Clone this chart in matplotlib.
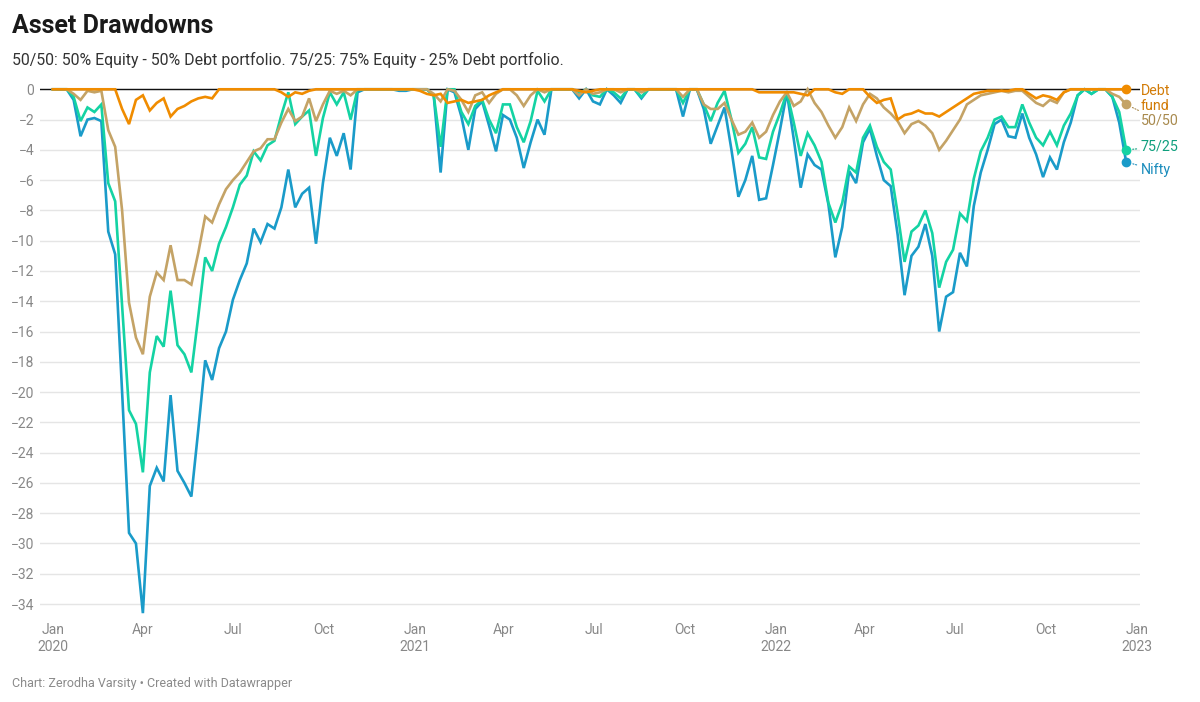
import matplotlib
matplotlib.use('Agg')
import matplotlib.pyplot as plt
import pandas as pd

plt.rcParams['font.family'] = ['Roboto', 'DejaVu Sans']

# weekly drawdown readings (%), Jan 2020 - Dec 2022
dates = pd.date_range('2020-01-01', periods=156, freq='7D')

nifty = [
    0, 0, 0, -0.7, -3.1, -2.0, -1.9, -2.1, -9.4, -10.9, -20.0, -29.3, -30.0,
    -34.6, -26.2, -25.0, -25.9, -20.2, -25.2, -26.0, -26.9, -22.5, -17.9, -19.2, -17.1, -16.0,
    -13.9, -12.6, -11.5, -9.2, -10.1, -8.9, -9.2, -7.8, -5.3, -7.8, -6.9, -6.5, -10.2,
    -6.2, -3.2, -4.4, -2.9, -5.3, -0.2, 0, 0, 0, 0, 0, -0.1, -0.1,
    0, 0, 0, -0.4, -5.5, 0, -0.2, -1.8, -4.0, -1.3, -0.8, -2.4, -4.1,
    -1.7, -2.0, -3.2, -5.2, -3.5, -2.0, -3.0, 0, 0, 0, 0, -0.6, 0,
    -0.8, -1.0, 0, -0.4, -0.9, 0, 0, -0.6, 0, 0, 0, 0, 0,
    -1.8, 0, 0, -1.3, -3.6, -2.4, -1.2, -4.0, -7.1, -6.0, -4.4, -7.3, -7.2,
    -5.0, -2.7, -0.2, -3.3, -6.5, -4.3, -5.0, -5.3, -7.6, -11.1, -9.1, -5.4, -6.2,
    -3.5, -2.6, -4.4, -6.0, -6.4, -9.6, -13.6, -11.0, -10.4, -8.9, -11.0, -16.0, -13.7,
    -13.4, -10.8, -11.7, -7.7, -5.5, -4.0, -2.3, -2.0, -3.1, -3.2, -1.6, -3.2, -4.3,
    -5.8, -4.5, -5.3, -3.5, -2.2, -0.4, 0, -0.3, 0, 0, -0.5, -2.2, -4.8,
]

mix_75_25 = [
    0, 0, 0, -0.5, -2.1, -1.2, -1.5, -1.0, -6.2, -7.4, -14.3, -21.2, -22.1,
    -25.3, -18.7, -16.3, -17.0, -13.3, -16.9, -17.5, -18.7, -15.0, -11.1, -12.0, -10.2, -9.1,
    -7.8, -6.3, -5.7, -4.1, -4.7, -3.7, -3.4, -1.7, -0.2, -2.3, -1.8, -1.4, -4.4,
    -1.9, -0.2, -1.0, -0.2, -2.0, 0, 0, 0, 0, 0, 0, 0, 0,
    0, 0, 0, -0.4, -3.8, 0, 0, -1.5, -2.3, -1.1, -0.7, -2.0, -2.9,
    -1.0, -1.0, -2.5, -3.5, -2.1, -0.1, -0.8, 0, 0, 0, 0, -0.3, 0,
    -0.4, -0.5, 0, -0.2, -0.6, 0, 0, -0.5, 0, 0, 0, 0, 0,
    -0.9, 0, 0, -1.0, -2.1, -0.9, -0.1, -2.0, -4.2, -3.6, -2.5, -4.5, -4.6,
    -2.8, -1.6, -0.2, -2.2, -4.4, -2.9, -3.7, -4.8, -7.5, -8.8, -7.5, -5.1, -5.5,
    -3.2, -2.4, -3.8, -4.8, -5.3, -8.2, -11.4, -9.4, -9.0, -8.0, -9.5, -13.1, -11.4,
    -10.6, -8.2, -8.7, -5.9, -4.1, -3.2, -2.0, -1.8, -2.5, -2.5, -1.0, -2.2, -3.2,
    -3.7, -2.8, -3.7, -2.4, -1.6, -0.4, 0, -0.3, 0, 0, -0.5, -1.5, -4.0,
]

mix_50_50 = [
    0, 0, 0, -0.3, -0.7, -0.1, -0.2, -0.1, -2.7, -3.8, -8.0, -14.1, -16.4,
    -17.5, -13.7, -12.1, -12.6, -10.3, -12.6, -12.6, -12.9, -10.8, -8.4, -8.8, -7.6, -6.6,
    -6.0, -5.5, -4.8, -4.1, -3.9, -3.3, -3.3, -2.2, -1.3, -2.1, -1.8, -0.6, -2.1,
    -1.0, -0.1, -0.3, -0.1, -0.4, 0, 0, 0, 0, 0, 0, 0, 0,
    0, 0, 0, -0.3, -0.8, 0, -0.1, -0.7, -1.5, -0.4, -0.2, -0.9, -0.3,
    0, 0, -0.4, -1.1, -0.4, 0, -0.2, 0, 0, 0, 0, -0.4, 0,
    -0.3, -0.2, 0, 0, -0.2, 0, 0, -0.2, 0, 0, 0, 0, 0,
    -0.5, 0, 0, -1.0, -1.3, -1.3, -0.9, -2.0, -3.0, -2.8, -2.2, -3.2, -2.8,
    -1.7, -0.8, -0.2, -1.1, -0.8, 0, -0.9, -1.5, -2.4, -3.2, -2.5, -1.2, -2.1,
    -1.0, -0.3, -0.6, -1.2, -1.6, -2.1, -2.9, -2.3, -2.1, -2.4, -2.9, -4.0, -3.4,
    -2.7, -2.0, -1.0, -0.7, -0.4, -0.3, -0.2, -0.1, -0.2, -0.1, -0.1, -0.5, -0.9,
    -1.1, -0.7, -0.9, -0.2, 0, 0, 0, 0, 0, 0, -0.3, -0.5, -1.0,
]

debt_fund = [
    0, 0, 0, 0, 0, 0, 0, 0, 0, 0, -1.3, -2.3, -0.7,
    -0.4, -1.4, -0.9, -0.6, -1.8, -1.3, -1.1, -0.8, -0.6, -0.5, -0.6, 0, 0,
    0, 0, 0, 0, 0, 0, 0, -0.2, -0.5, -0.2, -0.3, -0.1, 0,
    0, 0, 0, 0, 0, 0, 0, 0, 0, 0, 0, 0, 0,
    0, -0.1, -0.3, -0.4, -0.3, -0.9, -0.8, -0.7, -0.9, -0.8, -0.7, -0.4, -0.2,
    0, 0, 0, 0, 0, 0, 0, 0, 0, 0, 0, -0.1, -0.2,
    -0.1, 0, 0, 0, 0, 0, 0, 0, 0, 0, 0, 0, 0,
    0, 0, 0, 0, 0, 0, 0, 0, 0, 0, 0, -0.2, -0.2,
    -0.2, -0.2, -0.2, -0.2, -0.3, -0.4, 0, 0, 0, -0.2, -0.3, 0, 0,
    0, -0.5, -0.9, -0.7, -0.6, -2.0, -1.7, -1.6, -1.4, -1.6, -1.6, -1.8, -1.5,
    -1.2, -0.9, -0.6, -0.3, -0.2, -0.1, -0.1, -0.1, -0.1, 0, 0, -0.3, -0.6,
    -0.4, -0.5, -0.7, -0.2, 0, 0, 0, 0, 0, 0, 0, 0, 0,
]

tick_dates = pd.date_range('2020-01-01', '2023-01-01', freq='QS')
tick_labels = ['Jan\n2020', 'Apr', 'Jul', 'Oct', 'Jan\n2021', 'Apr', 'Jul', 'Oct',
               'Jan\n2022', 'Apr', 'Jul', 'Oct', 'Jan\n2023']

W, H = 1200, 702
fig = plt.figure(figsize=(W / 100, H / 100), dpi=100, facecolor='white')
ax = fig.add_axes([40 / W, 1 - 619.2 / H, 1100 / W, (619.2 - 80.2) / H])

# series: values, line colour, label colour, label, label offset (pt), va
series = [
    (nifty, '#1a9bc9', '#1a8cbc', 'Nifty', (10.5, -6.0), 'center'),
    (mix_75_25, '#14d3a3', '#0f9f7d', '75/25', (10.5, 2.2), 'center'),
    (mix_50_50, '#c4a366', '#a88a4e', '50/50', (10.5, -11.8), 'center'),
    (debt_fund, '#f08c00', '#d27b06', 'Debt\nfund', (10.5, 4.0), 'top'),
]

for i, (vals, col, tcol, name, off, va) in enumerate(series):
    ax.plot(dates, vals, color=col, lw=1.9, zorder=3 + i, solid_joinstyle='miter')
    ax.plot(dates[-1], vals[-1], 'o', color=col, ms=6, zorder=10 + i, clip_on=False)
    arrow = None
    if name != 'Debt\nfund':
        arrow = dict(arrowstyle='-', color=tcol, lw=0.8, linestyle=(0, (1, 1.5)),
                     shrinkA=1, shrinkB=4)
    ax.annotate(name, xy=(dates[-1], vals[-1]), xytext=off, textcoords='offset points',
                ha='left', va=va, fontsize=10.3, color=tcol, linespacing=1.15,
                arrowprops=arrow, annotation_clip=False)

ax.axhline(0, color='#111111', lw=1, zorder=2.5)

ax.set_xlim(pd.Timestamp('2019-12-19'), pd.Timestamp('2023-01-04'))
ax.set_ylim(-35.0, 0.6)
ax.set_yticks(range(0, -35, -2))
ax.set_xticks(tick_dates)
ax.set_xticklabels(tick_labels)

ax.grid(axis='y', color='#e5e5e5', lw=1, zorder=0)
ax.tick_params(axis='y', length=0, pad=4, labelsize=10, labelcolor='#888888')
ax.tick_params(axis='x', length=0, pad=3, labelsize=10, labelcolor='#888888')
for spine in ax.spines.values():
    spine.set_visible(False)

fig.text(12 / W, 1 - 33 / H, 'Asset Drawdowns', fontsize=18, weight='bold',
         color='#1a1a1a', va='baseline', ha='left')
fig.text(12 / W, 1 - 60 / H,
         '50/50: 50% Equity - 50% Debt portfolio. 75/25: 75% Equity - 25% Debt portfolio.',
         fontsize=11.4, color='#333333', va='center', ha='left')
fig.text(12 / W, 1 - 683 / H, 'Chart: Zerodha Varsity \u2022 Created with Datawrapper',
         fontsize=9, color='#8a8a8a', va='center', ha='left')

fig.savefig('out.png', dpi=100, facecolor='white')
